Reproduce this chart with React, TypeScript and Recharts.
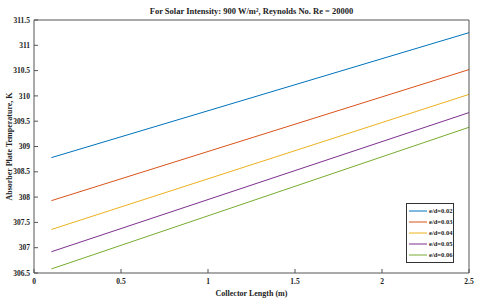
import {
  Label,
  Line,
  LineChart,
  XAxis,
  YAxis,
} from "recharts";

const lengths = [0.1, 2.5];
const seriesNames = ["e/d=0.02", "e/d=0.03", "e/d=0.04", "e/d=0.05", "e/d=0.06"];
const ed002 = [308.78, 311.25];
const ed003 = [307.93, 310.52];
const ed004 = [307.36, 310.03];
const ed005 = [306.92, 309.67];
const ed006 = [306.58, 309.38];
const xTicks = [0, 0.5, 1, 1.5, 2, 2.5];
const yTicks = [306.5, 307, 307.5, 308, 308.5, 309, 309.5, 310, 310.5, 311, 311.5];

const colors = ["#0072BD", "#D95319", "#EDB120", "#7E2F8E", "#77AC30"];
const font = "'Liberation Serif', 'Times New Roman', serif";
const axisColor = "#555";

const allSeries = [ed002, ed003, ed004, ed005, ed006];
const data = lengths.map((x, i) => {
  const row: Record<string, number> = { x };
  seriesNames.forEach((name, s) => {
    row[name] = allSeries[s][i];
  });
  return row;
});

const tickStyle = { fill: "#222", fontSize: 7.5, fontWeight: 700, fontFamily: font };

function LegendBox() {
  return (
    <div
      style={{
        position: "absolute",
        left: 406,
        top: 203,
        border: "1px solid #333",
        background: "#fff",
        width: 46,
        padding: "1px 0 2px 0",
        fontFamily: font,
        fontWeight: 700,
        fontSize: 6.5,
        lineHeight: "11px",
        color: "#222",
      }}
    >
      {seriesNames.map((name, i) => (
        <div key={name} style={{ display: "flex", alignItems: "center", height: 11 }}>
          <svg width={22} height={4} style={{ display: "block" }}>
            <line x1={2} y1={2} x2={20} y2={2} stroke={colors[i]} strokeWidth={1} />
          </svg>
          <span style={{ whiteSpace: "nowrap" }}>{name}</span>
        </div>
      ))}
    </div>
  );
}

export default function App() {
  return (
    <div style={{ position: "absolute", left: 0, top: 0, width: 480, height: 305, background: "#fff" }}>
      <LineChart
        width={480}
        height={305}
        data={data}
        margin={{ top: 19, right: 10, left: 0, bottom: 0 }}
      >
        <XAxis
          dataKey="x"
          type="number"
          domain={[0, 2.5]}
          ticks={xTicks}
          height={32}
          tick={tickStyle}
          tickSize={-4}
          tickMargin={10}
          stroke={axisColor}
          interval={0}
        >
          <Label
            value="Collector Length (m)"
            position="insideBottom"
            offset={9}
            style={{ fill: "#222", fontSize: 8, fontWeight: 700, fontFamily: font }}
          />
        </XAxis>
        <XAxis
          xAxisId="top"
          orientation="top"
          dataKey="x"
          type="number"
          domain={[0, 2.5]}
          ticks={xTicks}
          height={1}
          tick={false}
          tickSize={-4}
          stroke={axisColor}
          interval={0}
        >
          <Label
            value="For Solar Intensity: 900 W/m², Reynolds No. Re = 20000"
            position="top"
            offset={5}
            style={{ fill: "#222", fontSize: 8.5, fontWeight: 700, fontFamily: font }}
          />
        </XAxis>
        <YAxis
          type="number"
          domain={[306.5, 311.5]}
          ticks={yTicks}
          width={34}
          tick={tickStyle}
          tickSize={-4}
          tickMargin={8}
          stroke={axisColor}
          interval={0}
        >
          <Label
            value="Absorber Plate Temperature, K"
            angle={-90}
            position="insideLeft"
            offset={9}
            style={{ fill: "#222", fontSize: 8, fontWeight: 700, fontFamily: font, textAnchor: "middle" }}
          />
        </YAxis>
        <YAxis
          yAxisId="right"
          orientation="right"
          type="number"
          domain={[306.5, 311.5]}
          ticks={yTicks}
          width={1}
          tick={false}
          tickSize={-4}
          stroke={axisColor}
          interval={0}
        />
        {seriesNames.map((name, i) => (
          <Line
            key={name}
            dataKey={name}
            stroke={colors[i]}
            strokeWidth={1}
            dot={false}
            isAnimationActive={false}
          />
        ))}
      </LineChart>
      <LegendBox />
    </div>
  );
}
